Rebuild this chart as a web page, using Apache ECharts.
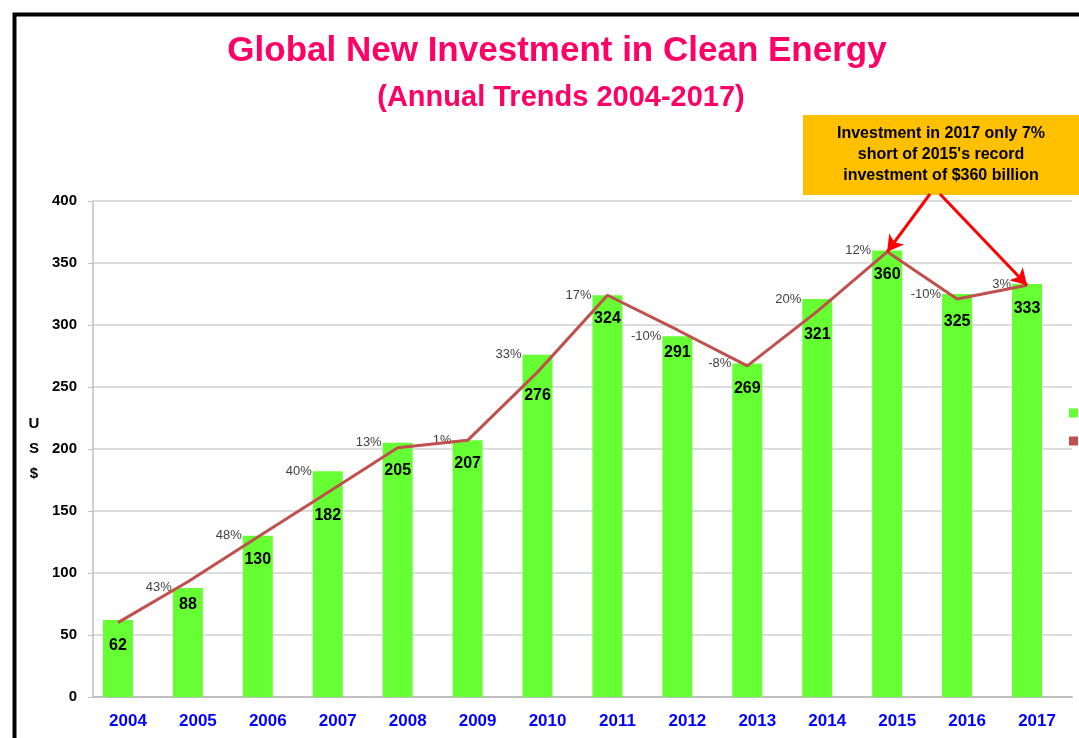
<!DOCTYPE html>
<html>
<head>
<meta charset="utf-8">
<title>Global New Investment in Clean Energy</title>
<script src="https://cdn.jsdelivr.net/npm/echarts@6/dist/echarts.min.js"></script>
<style>
  html, body { margin: 0; padding: 0; background: #fff; }
  #chart { width: 1079px; height: 738px; }
</style>
</head>
<body>
<div id="chart"></div>
<script>
// data (US$ billion)
const years = ['2004', '2005', '2006', '2007', '2008', '2009', '2010', '2011', '2012', '2013', '2014', '2015', '2016', '2017']
const investment = [62, 88, 130, 182, 205, 207, 276, 324, 291, 269, 321, 360, 325, 333]
const trend = [60, 93, 129, 165, 201, 207, 262, 324, 296, 267, 311, 359, 321, 332]
const growth = [null, 43, 48, 40, 13, 1, 33, 17, -10, -8, 20, 12, -10, 3]
const yTicks = { min: 0, max: 400, interval: 50 }

const font = 'Liberation Sans, Arial, sans-serif'
const chart = echarts.init(document.getElementById('chart'))

chart.setOption({
  animation: false,
  backgroundColor: '#fff',
  title: [
    {
      text: 'Global New Investment in Clean Energy',
      left: 552, top: 29, textAlign: 'center',
      textStyle: { color: '#ff0066', fontSize: 35, fontWeight: 'bold', fontFamily: font }
    },
    {
      text: '(Annual Trends 2004-2017)',
      left: 556, top: 78, textAlign: 'center',
      textStyle: { color: '#ff0066', fontSize: 29, fontWeight: 'bold', fontFamily: font }
    }
  ],
  legend: {
    orient: 'vertical',
    left: 1064,
    top: 402,
    itemWidth: 9,
    itemHeight: 9,
    itemGap: 16,
    icon: 'rect',
    data: ['Investment', 'Trend'],
    textStyle: { fontSize: 12, fontFamily: font, color: '#333' }
  },
  // grid 0 carries the visible axes, grid 1 (shifted 10px left) carries the marks,
  // so the bars sit a little left of the year labels like in the original
  grid: [
    { left: 93, right: 7, top: 201, bottom: 41 },
    { left: 83, right: 17, top: 201, bottom: 41 }
  ],
  xAxis: [
    {
      type: 'category',
      gridIndex: 0,
      data: years,
      axisLine: { lineStyle: { color: '#bfbfbf', width: 2 } },
      axisTick: { show: false },
      axisLabel: { color: '#0000ff', fontSize: 17, fontWeight: 'bold', fontFamily: font, margin: 16 }
    },
    { type: 'category', gridIndex: 1, data: years, show: false }
  ],
  yAxis: [
    {
      type: 'value',
      gridIndex: 0,
      min: yTicks.min,
      max: yTicks.max,
      interval: yTicks.interval,
      name: 'U\nS\n$',
      nameLocation: 'middle',
      nameRotate: 0,
      nameGap: 59,
      nameTextStyle: { fontSize: 15, fontWeight: 'bold', color: '#000', fontFamily: font, lineHeight: 25, align: 'center' },
      axisLine: { show: true, lineStyle: { color: '#bfbfbf', width: 1.5 } },
      axisTick: { show: true, length: 5, lineStyle: { color: '#bfbfbf' } },
      axisLabel: { color: '#000', fontSize: 15, fontWeight: 'bold', fontFamily: font, margin: 16 },
      splitLine: { lineStyle: { color: '#d0d0d0', width: 1.5 } }
    },
    { type: 'value', gridIndex: 1, min: yTicks.min, max: yTicks.max, interval: yTicks.interval, show: false }
  ],
  series: [
    {
      name: 'Investment',
      type: 'bar',
      xAxisIndex: 1,
      yAxisIndex: 1,
      data: investment,
      barWidth: 30,
      itemStyle: { color: '#66ff33' },
      label: {
        show: true,
        position: [-1, 0],
        align: 'right',
        verticalAlign: 'middle',
        fontSize: 13,
        color: '#404040',
        fontFamily: font,
        formatter: p => growth[p.dataIndex] == null ? '' : growth[p.dataIndex] + '%'
      }
    },
    {
      name: 'Trend',
      type: 'line',
      xAxisIndex: 1,
      yAxisIndex: 1,
      data: trend,
      symbol: 'circle',
      symbolSize: 0,
      lineStyle: { color: '#c0504d', width: 3 },
      itemStyle: { color: '#c0504d' },
      label: {
        show: true,
        position: 'bottom',
        distance: 15,
        fontSize: 16,
        fontWeight: 'bold',
        color: '#000',
        fontFamily: font,
        formatter: p => investment[p.dataIndex]
      },
      markLine: {
        silent: true,
        symbol: ['none', 'arrow'],
        symbolSize: [14, 16],
        lineStyle: { color: '#ff0000', width: 3, type: 'solid' },
        label: { show: false },
        data: [
          [{ x: 930, y: 194 }, { coord: ['2015', trend[11]] }],
          [{ x: 940, y: 194 }, { coord: ['2017', trend[13]] }]
        ]
      }
    }
  ],
  graphic: [
    {
      type: 'rect',
      left: 12, top: 12,
      shape: { width: 1200, height: 900 },
      style: { fill: 'none', stroke: '#000', lineWidth: 4 },
      silent: true
    },
    {
      type: 'group',
      left: 803, top: 115,
      children: [
        { type: 'rect', shape: { width: 290, height: 80 }, style: { fill: '#ffc000' } },
        {
          type: 'text', x: 138, y: 40,
          style: {
            text: "Investment in 2017 only 7%\nshort of 2015's record\ninvestment of $360 billion",
            align: 'center', verticalAlign: 'middle',
            font: 'bold 16px ' + font, lineHeight: 21, fill: '#000'
          }
        }
      ]
    }
  ]
})
</script>
</body>
</html>
